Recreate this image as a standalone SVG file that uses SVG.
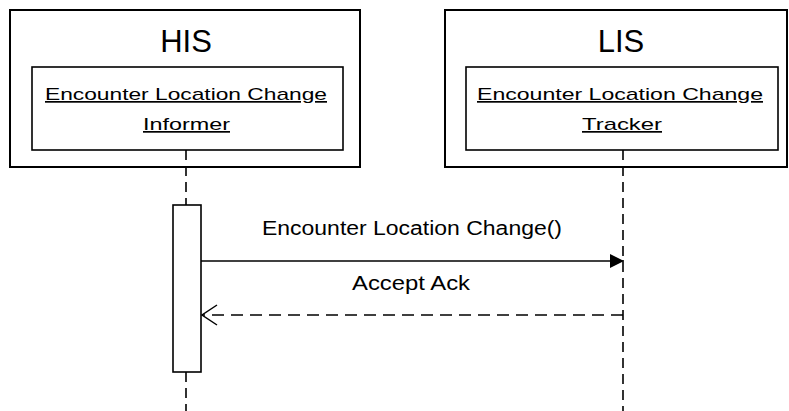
<svg xmlns="http://www.w3.org/2000/svg" width="789" height="411" viewBox="0 0 789 411">
  <style>
    .frame { fill: #fff; stroke: #000; stroke-width: 2; }
    .inner { fill: #fff; stroke: #000; stroke-width: 1.6; }
    .sys { font-family: "Liberation Sans", Arial, sans-serif; font-size: 31px; fill: #000; text-anchor: middle; }
    .obj { font-family: "Liberation Sans", Arial, sans-serif; font-size: 17px; fill: #000; text-anchor: middle; text-decoration: underline; }
    .msg { font-family: "Liberation Sans", Arial, sans-serif; font-size: 20px; fill: #000; text-anchor: middle; }
    .life { stroke: #000; stroke-width: 1.6; stroke-dasharray: 10 6; fill: none; }
    .call { stroke: #000; stroke-width: 1.5; fill: none; }
    .reply { stroke: #000; stroke-width: 1.5; stroke-dasharray: 12 7; fill: none; }
  </style>
  <defs>
    <marker id="solidHead" markerWidth="16" markerHeight="16" refX="15" refY="8" orient="auto" markerUnits="userSpaceOnUse">
      <path d="M1,1 L15,8 L1,15 Z" fill="#000"/>
    </marker>
    <marker id="openHead" markerWidth="18" markerHeight="24" refX="16" refY="12" orient="auto" markerUnits="userSpaceOnUse">
      <path d="M1,2 L16,12 L1,22" fill="none" stroke="#000" stroke-width="1.5"/>
    </marker>
  </defs>

  <g id="his">
    <rect class="frame" x="10" y="10" width="350" height="157"/>
    <text class="sys" x="186" y="52">HIS</text>
    <g id="informer">
      <rect class="inner" x="32" y="67" width="311" height="83"/>
      <text class="obj" x="186" y="100" textLength="282" lengthAdjust="spacingAndGlyphs">Encounter Location Change</text>
      <text class="obj" x="186.5" y="130" textLength="87" lengthAdjust="spacingAndGlyphs">Informer</text>
    </g>
  </g>

  <g id="lis">
    <rect class="frame" x="445" y="10" width="342" height="157"/>
    <text class="sys" x="621" y="52">LIS</text>
    <g id="tracker">
      <rect class="inner" x="466" y="67" width="312" height="83"/>
      <text class="obj" x="620" y="100" textLength="286" lengthAdjust="spacingAndGlyphs">Encounter Location Change</text>
      <text class="obj" x="622" y="130" textLength="80" lengthAdjust="spacingAndGlyphs">Tracker</text>
    </g>
  </g>

  <g id="activation">
    <rect class="inner" x="173" y="205" width="28" height="167"/>
  </g>

  <!-- lifelines and messages -->
  <g id="connectors">
    <line class="life" x1="186" y1="150" x2="186" y2="205"/>
    <line class="life" x1="186" y1="372" x2="186" y2="411"/>
    <line class="life" x1="623" y1="150" x2="623" y2="411"/>
    <line class="call" x1="201" y1="261" x2="624" y2="261" marker-end="url(#solidHead)"/>
    <line class="reply" x1="623" y1="315" x2="202" y2="315" marker-end="url(#openHead)"/>
  </g>

  <g id="labels">
    <text class="msg" x="412" y="235" textLength="300" lengthAdjust="spacingAndGlyphs">Encounter Location Change()</text>
    <text class="msg" x="411" y="290" textLength="118" lengthAdjust="spacingAndGlyphs">Accept Ack</text>
  </g>
</svg>
